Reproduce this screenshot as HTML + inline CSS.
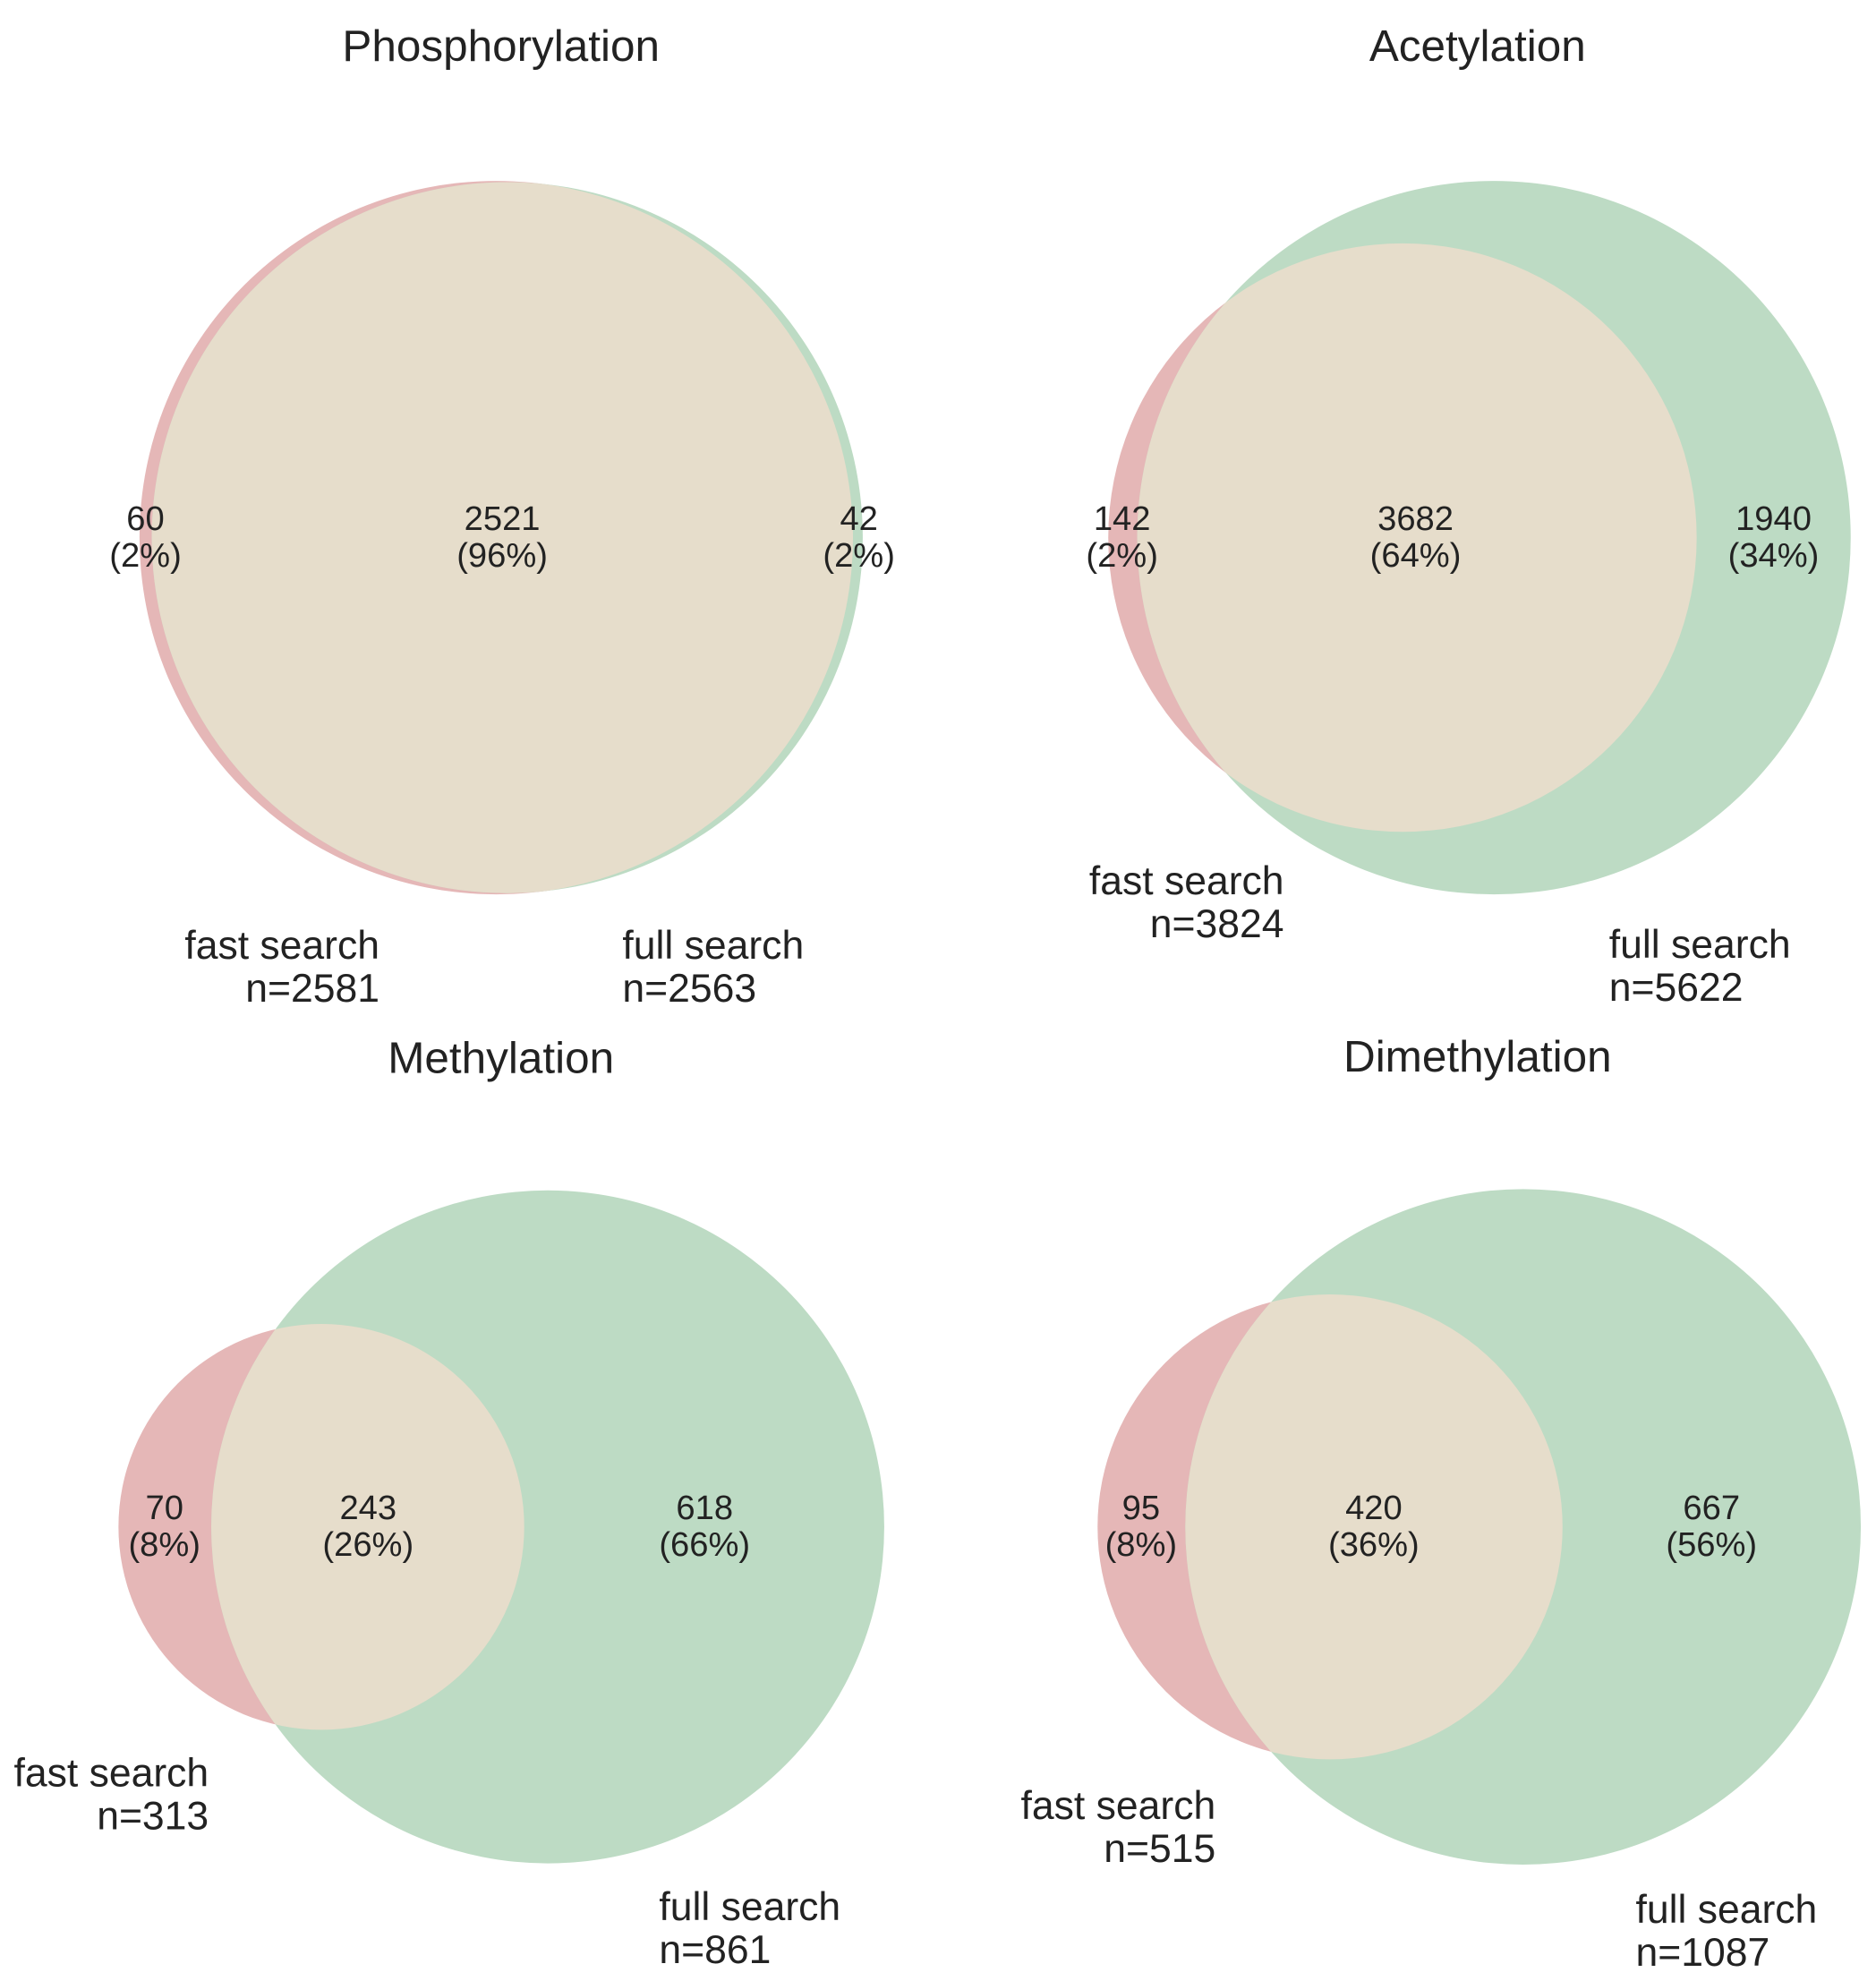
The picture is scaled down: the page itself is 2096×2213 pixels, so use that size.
<!DOCTYPE html>
<html><head><meta charset="utf-8"><style>
html,body{margin:0;padding:0;background:#fff;}
svg{display:block;}
text{font-family:"Liberation Sans",Arial,sans-serif;fill:#222;}
</style></head><body>
<svg id="chart" width="2096" height="2213" viewBox="0 0 1483 1566" preserveAspectRatio="none" xmlns="http://www.w3.org/2000/svg"></svg>
<script>
const titles = ["Phosphorylation","Acetylation","Methylation","Dimethylation"];
const fastOnly = [60,142,70,95];
const both = [2521,3682,243,420];
const fullOnly = [42,1940,618,667];
const fastPct = ["2%","2%","8%","8%"];
const bothPct = ["96%","64%","26%","36%"];
const fullPct = ["2%","34%","66%","56%"];

// layout (not data)
const panels = [
  {cx:401, cy:425, R:282, tx:396, ty:48, lx:[115,397,679], ly:419,
   fastLab:[300,758,"end"], fullLab:[492,758,"start"]},
  {cx:1181, cy:425, R:282, tx:1168, ty:48, lx:[887,1119,1402], ly:419,
   fastLab:[1015,707,"end"], fullLab:[1272,757,"start"]},
  {cx:433, cy:1207, R:266, tx:396, ty:848, lx:[130,291,557], ly:1201,
   fastLab:[165,1412,"end"], fullLab:[521,1518,"start"]},
  {cx:1204, cy:1207, R:267, tx:1168, ty:847, lx:[902,1086,1353], ly:1201,
   fastLab:[961,1438,"end"], fullLab:[1293,1520,"start"]}
];
const NS="http://www.w3.org/2000/svg";
const svg=document.getElementById('chart');
function el(t,a){const e=document.createElementNS(NS,t);for(const k in a)e.setAttribute(k,a[k]);return e;}
function lens(r1,r2,d){
  if(d>=r1+r2)return 0;
  if(d<=Math.abs(r1-r2))return Math.PI*Math.min(r1,r2)**2;
  const a=r1*r1*Math.acos((d*d+r1*r1-r2*r2)/(2*d*r1));
  const b=r2*r2*Math.acos((d*d+r2*r2-r1*r1)/(2*d*r2));
  const c=0.5*Math.sqrt((-d+r1+r2)*(d+r1-r2)*(d-r1+r2)*(d+r1+r2));
  return a+b-c;
}
const defs=el('defs',{});svg.appendChild(defs);
panels.forEach((p,i)=>{
  const nFast=fastOnly[i]+both[i], nFull=fullOnly[i]+both[i];
  const nMax=Math.max(nFast,nFull);
  const k=Math.PI*p.R*p.R/nMax;
  const rFast=Math.sqrt(nFast*k/Math.PI), rFull=Math.sqrt(nFull*k/Math.PI);
  const target=both[i]*k;
  let lo=Math.abs(rFast-rFull), hi=rFast+rFull;
  for(let it=0;it<60;it++){const m=(lo+hi)/2; if(lens(rFast,rFull,m)>target)lo=m;else hi=m;}
  const d=(lo+hi)/2;
  const fx=p.cx-d;
  const g=el('g',{});
  
  
  svg.appendChild(g);
  const cf=el('circle',{cx:fx,cy:p.cy,r:rFast,fill:'#e5b7b7'});
  
  
  const cu=el('circle',{cx:p.cx,cy:p.cy,r:rFull,fill:'#bddbc4'});
  
  
  g.appendChild(cf);g.appendChild(cu);
  const cp=el('clipPath',{id:'cp'+i});cp.appendChild(el('circle',{cx:fx,cy:p.cy,r:rFast}));defs.appendChild(cp);
  const ov=el('circle',{cx:p.cx,cy:p.cy,r:rFull,fill:'#e6ddcb','clip-path':'url(#cp'+i+')'});
  
  
  g.appendChild(ov);
  const t=el('text',{x:p.tx,y:p.ty,'font-size':35,'text-anchor':'middle'});t.textContent=titles[i];
  
  
  g.appendChild(t);
  const vals=[[fastOnly[i],fastPct[i]],[both[i],bothPct[i]],[fullOnly[i],fullPct[i]]];
  vals.forEach((v,j)=>{
    const tx=el('text',{x:p.lx[j],y:p.ly,'font-size':27,'text-anchor':'middle'});
    
    
    const s1=el('tspan',{x:p.lx[j],dy:0});s1.textContent=v[0];
    const s2=el('tspan',{x:p.lx[j],dy:29});s2.textContent='('+v[1]+')';
    tx.appendChild(s1);tx.appendChild(s2);g.appendChild(tx);
  });
  [[p.fastLab,'fast search','n='+nFast,'fast-search-label'],[p.fullLab,'full search','n='+nFull,'full-search-label']].forEach(L=>{
    const tx=el('text',{x:L[0][0],y:L[0][1],'font-size':31.5,'text-anchor':L[0][2]});
    
    
    const s1=el('tspan',{x:L[0][0],dy:0});s1.textContent=L[1];
    const s2=el('tspan',{x:L[0][0],dy:34});s2.textContent=L[2];
    tx.appendChild(s1);tx.appendChild(s2);g.appendChild(tx);
  });
});
</script>
</body></html>
